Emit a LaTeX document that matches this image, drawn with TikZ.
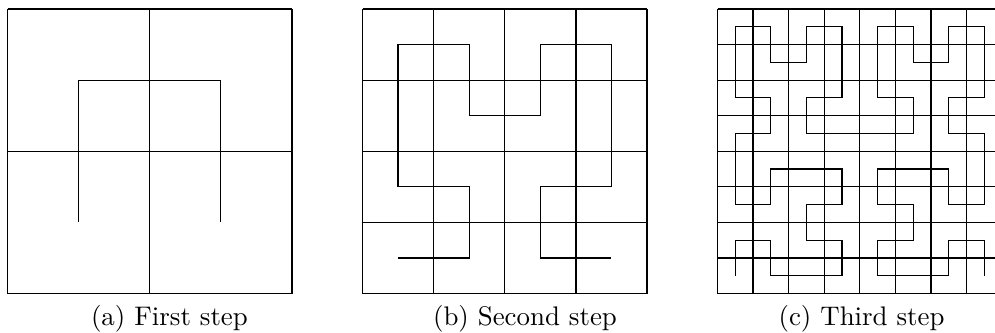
\documentclass[tikz,border=0pt]{standalone}
\begin{document}
\begin{tikzpicture}[x=0.372pt,y=-0.372pt,
  gridline/.style={line width=0.45pt,black},
  curveline/.style={line width=0.45pt,black,line join=miter},
  captext/.style={anchor=base west,inner sep=0pt,font=\normalsize}]
\useasboundingbox (0,0) rectangle (995,333);
\begin{scope}
\clip (0,0) rectangle (995,333);
% (a) first step
\begin{scope}[shift={(7.5,293.5)},x=52.92pt,y=52.92pt]
  \draw[gridline,step=1] (0,0) grid (2,2);
  \draw[curveline,shift={(0.5,0.5)}] (0,0)--(0,1)--(1,1)--(1,0);
\end{scope}
% (b) second step
\begin{scope}[shift={(362.5,293.5)},x=26.46pt,y=26.46pt]
  \draw[gridline,step=1] (0,0) grid (4,4);
  \draw[curveline,shift={(0.5,0.5)}] (0,0)--(1,0)--(1,1)--(0,1)--(0,2)--(0,3)--(1,3)--(1,2)--(2,2)--(2,3)--(3,3)--(3,2)--(3,1)--(2,1)--(2,0)--(3,0);
\end{scope}
% (c) third step
\begin{scope}[shift={(717.5,293.5)},x=13.23pt,y=13.23pt]
  \draw[gridline,step=1] (0,0) grid (8,8);
  \draw[curveline,shift={(0.5,0.5)}]
    (0,0)--(0,1)--(1,1)--(1,0)--(2,0)--(3,0)--(3,1)--(2,1)--(2,2)--(3,2)--(3,3)--(2,3)--(1,3)--(1,2)--(0,2)--(0,3)
    --(0,4)--(1,4)--(1,5)--(0,5)--(0,6)--(0,7)--(1,7)--(1,6)--(2,6)--(2,7)--(3,7)--(3,6)--(3,5)--(2,5)--(2,4)--(3,4)
    --(4,4)--(5,4)--(5,5)--(4,5)--(4,6)--(4,7)--(5,7)--(5,6)--(6,6)--(6,7)--(7,7)--(7,6)--(7,5)--(6,5)--(6,4)--(7,4)
    --(7,3)--(7,2)--(6,2)--(6,3)--(5,3)--(4,3)--(4,2)--(5,2)--(5,1)--(4,1)--(4,0)--(5,0)--(6,0)--(6,1)--(7,1)--(7,0);
\end{scope}
\end{scope}
\node[captext] (capa) at (90.5,325) {(a) First step};
\node[captext] (capb) at (432.5,325) {(b) Second step};
\node[captext] (capc) at (778,325) {(c) Third step};
\end{tikzpicture}
\end{document}
